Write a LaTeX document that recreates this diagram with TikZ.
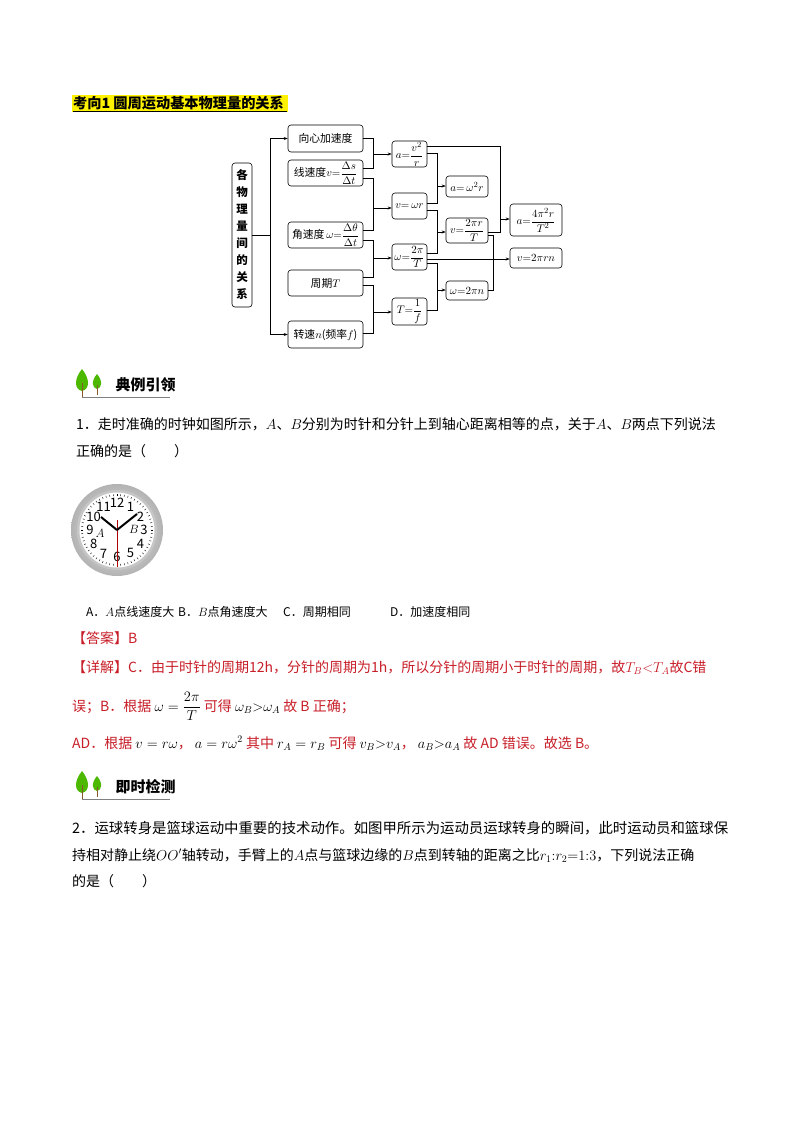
\documentclass[tikz,border=0pt]{standalone}
\usepackage{amsmath}
\usepackage{fontspec}
\setmainfont{Noto Sans CJK SC}
\usetikzlibrary{arrows.meta}
\definecolor{ans}{RGB}{200,30,40}
\tikzset{
 bx/.style={draw,rounded corners=3pt,line width=0.6pt,inner sep=0pt,font=\fontsize{10.8}{12}\selectfont},
 ln/.style={line width=0.6pt},
 ar/.style={line width=0.6pt,-{Stealth[length=4pt,width=3pt]}},
 tx/.style={anchor=base west,inner sep=0pt,font=\fontsize{14}{15}\selectfont},
 op/.style={anchor=base west,inner sep=0pt,font=\fontsize{12}{14}\selectfont},
 rd/.style={tx,text=ans}
}
\newcommand{\treeicon}[3]{%
 \fill[green!60!black!70!yellow] (#1+12,#2-2) .. controls (#1+4,#2+8) and (#1+4,#2+18) .. (#1+12,#2+20) .. controls (#1+20,#2+18) and (#1+20,#2+8) .. (#1+12,#2-2);
 \fill[green!60!black!70!yellow] (#1+27,#2+3) .. controls (#1+21,#2+10) and (#1+22,#2+17) .. (#1+27,#2+18) .. controls (#1+32,#2+17) and (#1+33,#2+10) .. (#1+27,#2+3);
 \draw[brown!70!black,line width=0.8pt] (#1+12,#2+12) -- (#1+12,#2+26);
 \draw[brown!70!black,line width=0.8pt] (#1+27,#2+14) -- (#1+27,#2+24);
 \draw[gray,line width=1pt] (#1+12,#2+26) -- (#1+100,#2+26);
 \node[anchor=west,font=\fontsize{15}{16}\selectfont\bfseries] at (#1+42,#2+14) {#3};
}
\begin{document}
\begin{tikzpicture}[x=1pt,y=-1pt]
\useasboundingbox (0,0) rectangle (794,1122);
\fill[white] (0,0) rectangle (794,1122);
% header
\fill[yellow] (72,95) rectangle (288,112);
\node[anchor=west,inner sep=0pt,font=\fontsize{14.2}{15}\selectfont\bfseries] (hd) at (73,103.5) {考向1\ 圆周运动基本物理量的关系};
\draw[line width=0.6pt] (73,111) -- (287,111);
% diagram
\node[bx,minimum width=20pt,minimum height=144pt,align=center,font=\fontsize{11.5}{17}\selectfont\bfseries] (L) at (242,235) {各\\物\\理\\量\\间\\的\\关\\系};
\node[bx,minimum width=75pt,minimum height=27pt] (b1) at (325.5,138.5) {向心加速度};
\node[bx,minimum width=75pt,minimum height=26pt] (b2) at (325.5,173) {线速度$v{=}\dfrac{\Delta s}{\Delta t}$};
\node[bx,minimum width=75pt,minimum height=26pt] (b3) at (325.5,235) {角速度$\,\omega{=}\dfrac{\Delta\theta}{\Delta t}$};
\node[bx,minimum width=75pt,minimum height=26pt] (b4) at (325.5,283) {周期$T$};
\node[bx,minimum width=75pt,minimum height=27pt] (b5) at (325.5,334.5) {转速$n$(频率$f$)};
\node[bx,minimum width=35pt,minimum height=26pt] (c1) at (409.5,154) {$a{=}\dfrac{v^2}{r}$};
\node[bx,minimum width=35pt,minimum height=26pt] (c2) at (409.5,206) {$v{=}\,\omega r$};
\node[bx,minimum width=35pt,minimum height=26pt] (c3) at (409.5,257) {$\omega{=}\dfrac{2\pi}{T}$};
\node[bx,minimum width=35pt,minimum height=27pt] (c4) at (409.5,311.5) {$T{=}\dfrac{1}{f}$};
\node[bx,minimum width=42pt,minimum height=21pt] (d1) at (467,186.5) {$a{=}\,\omega^2 r$};
\node[bx,minimum width=42pt,minimum height=25pt] (d2) at (467,230.5) {$v{=}\dfrac{2\pi r}{T}$};
\node[bx,minimum width=42pt,minimum height=19pt] (d3) at (467,290.5) {$\omega{=}2\pi n$};
\node[bx,minimum width=52pt,minimum height=32pt] (e1) at (536,220) {$a{=}\dfrac{4\pi^2 r}{T^2}$};
\node[bx,minimum width=52pt,minimum height=20pt] (e2) at (536,258) {$v{=}2\pi rn$};
% bracket
\coordinate (j0) at (270,235);
\draw[ln] (L.east) -- (j0);
\draw[ar] (j0) |- (b1.west);
\draw[ar] (j0) |- (b5.west);
% merges col2->col3
\draw[ln] (b1.east|-0,138) -- (373,138) -- (373,168) -- (b2.east|-0,168);
\draw[ar] (373,154) -- (c1.west);
\draw[ln] (b2.east|-0,178) -- (373,178) -- (373,230) -- (b3.east|-0,230);
\draw[ar] (373,208) -- (c2.west|-0,208);
\draw[ln] (b3.east|-0,240) -- (373,240) -- (373,277) -- (b4.east|-0,277);
\draw[ar] (373,258) -- (c3.west|-0,258);
\draw[ln] (b4.east|-0,285) -- (373,285) -- (373,333) -- (b5.east|-0,333);
\draw[ar] (373,312) -- (c4.west|-0,312);
% col3->col4
\draw[ln] (c1.east|-0,153) -- (437,153) -- (437,203) -- (c2.east|-0,203);
\draw[ar] (437,186) -- (d1.west|-0,186);
\draw[ln] (c2.east|-0,210) -- (437,210) -- (437,253) -- (c3.east|-0,253);
\draw[ar] (437,232) -- (d2.west|-0,232);
\draw[ln] (c3.east|-0,263) -- (437,263) -- (437,310) -- (c4.east|-0,310);
\draw[ar] (437,290) -- (d3.west|-0,290);
% col4->col5
\draw[ln] (c1.east|-0,146) -- (500,146) -- (500,232) -- (d2.east|-0,232);
\draw[ar] (500,219) -- (e1.west|-0,219);
\draw[ar] (c3.east|-0,259) -- (e2.west|-0,259);
\draw[ln] (d2.east|-0,235) -- (493,235) -- (493,290) -- (d3.east|-0,290);
% section 1
\treeicon{70}{371}{典例引领}
\node[tx] (q1a) at (76,429) {1．走时准确的时钟如图所示，$A$、$B$分别为时针和分针上到轴心距离相等的点，关于$A$、$B$两点下列说法};
\node[tx] (q1b) at (76,456) {正确的是（\quad\quad）};
% clock
\shade[outer color=gray!60,inner color=gray!10] (117,530) circle (46);
\fill[gray!45] (117,530) circle (40);
\fill[white] (117,530) circle (37.5);
\foreach \i in {0,...,59} \draw[line width=0.4pt] ({117+36*sin(6*\i)},{530-36*cos(6*\i)}) -- ({117+34*sin(6*\i)},{530-34*cos(6*\i)});
\foreach \h in {1,...,12} \node[inner sep=0pt,font=\fontsize{13}{13}\selectfont] (h\h) at ({117+27*sin(30*\h)},{530-27*cos(30*\h)}) {\h};
\draw[red!70!black,line width=0.5pt] (117,520) -- (117,567);
\draw[line width=2pt] (117,530) -- (101,517);
\draw[line width=2pt] (117,530) -- (137,514);
\node[font=\fontsize{13}{13}\selectfont\itshape] (lA) at (100,533) {$A$};
\node[font=\fontsize{13}{13}\selectfont\itshape] (lB) at (134,529) {$B$};
% options
\node[op] (oA) at (86,616) {A．$A$点线速度大};
\node[op] (oB) at (178,616) {B．$B$点角速度大};
\node[op] (oC) at (283,616) {C．周期相同};
\node[op] (oD) at (390,616) {D．加速度相同};
\node[rd] (ans) at (72,643) {【答案】B};
\node[rd] (x1) at (72,672) {【详解】C．由于时针的周期12h，分针的周期为1h，所以分针的周期小于时针的周期，故$T_B{<}T_A$故C错};
\node[rd] (x2) at (72,711) {误；B．根据 \textcolor{black}{$\omega=\dfrac{2\pi}{T}$} 可得 \textcolor{black}{$\omega_B{>}\omega_A$} 故 B 正确；};
\node[rd] (x3) at (72,748) {AD．根据 \textcolor{black}{$v=r\omega$}，\ \textcolor{black}{$a=r\omega^2$} 其中 \textcolor{black}{$r_A=r_B$} 可得 \textcolor{black}{$v_B{>}v_A$}，\ \textcolor{black}{$a_B{>}a_A$} 故 AD 错误。故选 B。};
% section 2
\treeicon{70}{773}{即时检测}
\node[tx,font=\fontsize{14.4}{16}\selectfont] (q2a) at (72,833) {2．运球转身是篮球运动中重要的技术动作。如图甲所示为运动员运球转身的瞬间，此时运动员和篮球保};
\node[tx] (q2b) at (72,860) {持相对静止绕$OO'$轴转动，手臂上的$A$点与篮球边缘的$B$点到转轴的距离之比$r_1{:}r_2{=}1{:}3$，下列说法正确};
\node[tx] (q2c) at (72,886) {的是（\quad\quad）};
\end{tikzpicture}
\end{document}
